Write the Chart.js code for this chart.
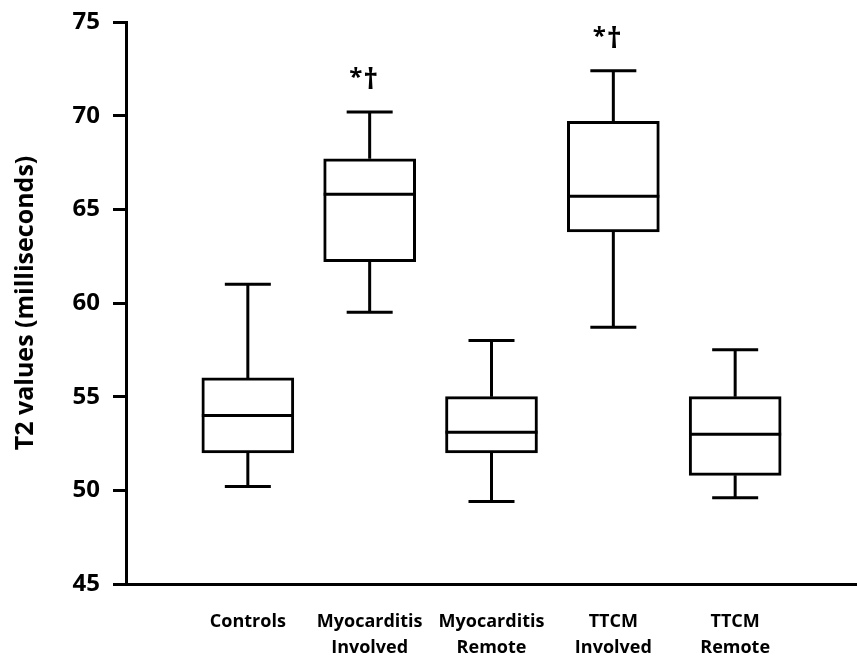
<!DOCTYPE html>
<html>
<head>
<meta charset="utf-8">
<title>T2 values box plot</title>
<script src="https://cdn.jsdelivr.net/npm/chart.js@4"></script>
<style>
  html, body { margin: 0; padding: 0; background: #fff; }
  #wrap { width: 857px; height: 662px; position: relative; }
</style>
</head>
<body>
<div id="wrap"><canvas id="chart"></canvas></div>
<script>
/* ── Data ─────────────────────────────────────────────── */
const categories   = [['Controls'], ['Myocarditis', 'Involved'], ['Myocarditis', 'Remote'], ['TTCM', 'Involved'], ['TTCM', 'Remote']];
const whiskerLow   = [50.2, 59.5, 49.4, 58.7, 49.6];
const quartile1    = [52.0, 62.2, 52.0, 63.8, 50.8];
const medians      = [54.0, 65.8, 53.1, 65.7, 53.0];
const quartile3    = [56.0, 67.7, 55.0, 69.7, 55.0];
const whiskerHigh  = [61.0, 70.2, 58.0, 72.4, 57.5];
const markers      = ['', '*†', '', '*†', ''];
const yTicks       = [45, 50, 55, 60, 65, 70, 75];

const FONT = "'Open Sans', 'Noto Sans', sans-serif";
Chart.defaults.font.family = FONT;
Chart.defaults.color = '#000';

// whiskers, caps, medians and the significance marks on top of the boxes
const boxPlot = {
  id: 'boxPlot',
  afterDatasetsDraw(chart) {
    const { ctx, scales: { x, y } } = chart;
    const meta = chart.getDatasetMeta(0);
    ctx.save();
    ctx.strokeStyle = '#000';
    ctx.lineWidth = 3;
    meta.data.forEach((bar, i) => {
      const cx   = x.getPixelForValue(i + 1);
      const half = bar.width / 2;
      const cap  = bar.width / 4;
      const yHi = y.getPixelForValue(whiskerHigh[i]);
      const yLo = y.getPixelForValue(whiskerLow[i]);
      const yQ3 = y.getPixelForValue(quartile3[i]);
      const yQ1 = y.getPixelForValue(quartile1[i]);
      const yMd = y.getPixelForValue(medians[i]);

      ctx.beginPath();
      ctx.moveTo(cx, yQ3); ctx.lineTo(cx, yHi);
      ctx.moveTo(cx - cap, yHi); ctx.lineTo(cx + cap, yHi);
      ctx.moveTo(cx, yQ1); ctx.lineTo(cx, yLo);
      ctx.moveTo(cx - cap, yLo); ctx.lineTo(cx + cap, yLo);
      ctx.moveTo(cx - half, yMd); ctx.lineTo(cx + half, yMd);
      ctx.stroke();

      if (markers[i]) {
        // asterisk and dagger are set at different sizes, as in the original
        const [star, dagger] = [...markers[i]];
        ctx.fillStyle = '#000';
        ctx.textAlign = 'center';
        ctx.textBaseline = 'alphabetic';
        ctx.font = `bold 24px ${FONT}`;
        ctx.fillText(star, cx - 14, yHi - 27);
        ctx.font = `bold 29px ${FONT}`;
        ctx.fillText(dagger, cx + 1, yHi - 23);
      }
    });
    ctx.restore();
  }
};

new Chart(document.getElementById('chart'), {
  type: 'bar',
  data: {
    datasets: [{
      data: categories.map((_, i) => ({ x: i + 1, y: [quartile1[i], quartile3[i]] })),
      backgroundColor: '#fff',
      borderColor: '#000',
      borderWidth: 3,
      borderSkipped: false,
      barThickness: 92
    }]
  },
  options: {
    responsive: true,
    maintainAspectRatio: false,
    animation: false,
    layout: { padding: { top: 22, right: 0, bottom: 0, left: 0 } },
    plugins: { legend: { display: false }, tooltip: { enabled: false } },
    scales: {
      x: {
        type: 'linear',
        min: 0,
        max: 6,
        offset: false,
        grid: { display: false, drawTicks: false },
        border: { display: true, color: '#000', width: 3 },
        afterBuildTicks: s => { s.ticks = categories.map((_, i) => ({ value: i + 1 })); },
        afterFit: s => { s.height = 78; },
        ticks: {
          autoSkip: false,
          maxRotation: 0,
          padding: 25,
          font: { size: 18, weight: 'bold', lineHeight: 1.44 },
          callback: v => categories[v - 1]
        }
      },
      y: {
        min: 45,
        max: 75,
        afterBuildTicks: s => { s.ticks = yTicks.map(v => ({ value: v })); },
        // fixed axis width; let layout padding alone decide the top edge
        afterFit: s => { s.width = 126; s.paddingTop = 0; s.paddingBottom = 0; },
        grid: { drawOnChartArea: false, drawTicks: true, tickLength: 13, tickWidth: 3, tickColor: '#000' },
        border: { display: true, color: '#000', width: 3 },
        ticks: { padding: 13, font: { size: 24, weight: 'bold' } },
        title: {
          display: true,
          text: 'T2 values (milliseconds)',
          font: { size: 25, weight: 'bold' },
          padding: { top: 11, bottom: 0 }
        }
      }
    }
  },
  plugins: [boxPlot]
});
</script>
</body>
</html>
